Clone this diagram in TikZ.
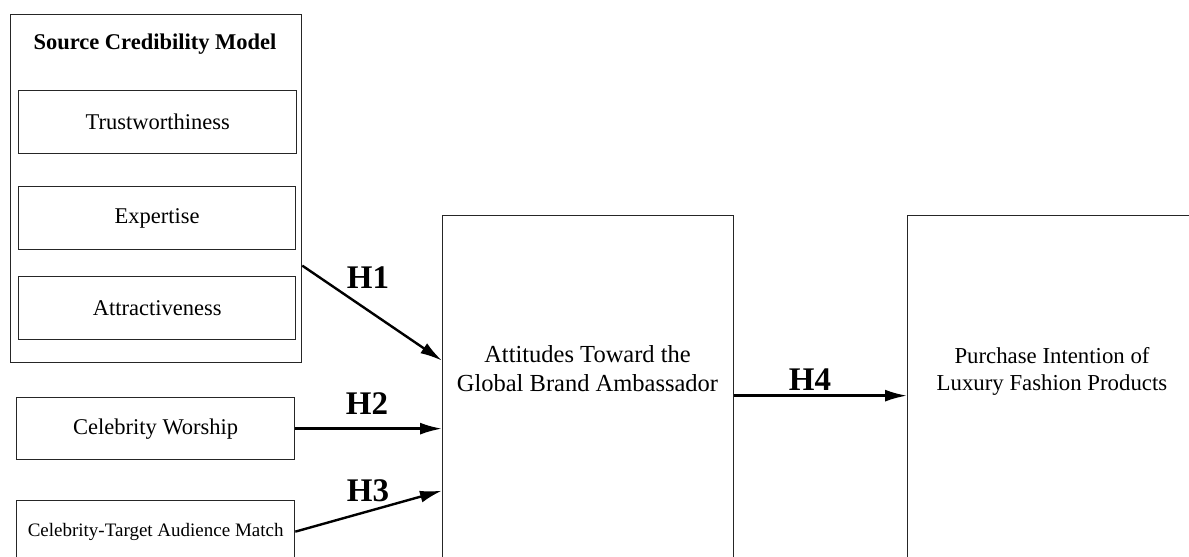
\documentclass[tikz,border=0pt]{standalone}
\usepackage{fontspec}
\setmainfont{Liberation Serif}
\usetikzlibrary{arrows.meta}

\begin{document}
\begin{tikzpicture}[x=1pt, y=-1pt,
		box/.style={draw=black!85, line width=1.3pt, inner sep=0pt, anchor=north west},
		txt/.style={font=\fontsize{22.5}{27}\selectfont, align=center},
		hyp/.style={line width=2.4pt, -{Latex[length=22pt, width=12pt]}},
		hlabel/.style={font=\bfseries\fontsize{33}{36}\selectfont}]
	\useasboundingbox (0,0) rectangle (1189,557);
	\clip (0,0) rectangle (1189,557);
	
	% \varbox#name#x#y#width#height#text
	\def\varbox#1#2#3#4#5#6{
		\node[box, txt, minimum width=#4pt, minimum height=#5pt] (#1) at (#2, #3) {#6};
	}
	
	% source credibility model
	\varbox{src}{10}{14}{291}{348}{}
	\node[txt] (srctitle) at (155, 44) {\bfseries Source Credibility Model};
	\varbox{trust}{18}{90}{278}{63}{Trustworthiness}
	\varbox{expert}{18}{186}{277}{63}{Expertise}
	\varbox{attract}{18}{276}{277}{63}{Attractiveness}
	
	% other antecedents
	\varbox{worship}{16}{397}{278}{62}{Celebrity Worship}
	\varbox{match}{16}{500}{278}{62}{\fontsize{19}{23}\selectfont Celebrity-Target Audience Match}
	
	% attitude and intention
	\varbox{att}{442}{215}{291}{360}{}
	\varbox{purch}{907}{215}{400}{360}{}
	\node[txt, font=\fontsize{24.5}{29}\selectfont] (atttext) at (587.5, 369)
		{Attitudes Toward the\\Global Brand Ambassador};
	\node[txt, font=\fontsize{22.8}{27}\selectfont] (purtext) at (1052, 371)
		{Purchase Intention of\\Luxury Fashion Products};
	
	% hypotheses
	\draw[hyp] ([yshift=-77pt]src.east) -- ([yshift=35pt]att.west);
	\draw[hyp] (worship.east) -- (worship.east -| att.west);
	\draw[hyp] (match.east) -- ([yshift=-95pt]att.west);
	\draw[hyp] (att.east) -- (purch.west);
	
	\node[hlabel] (h1) at (368, 278) {H1};
	\node[hlabel] (h2) at (367, 404) {H2};
	\node[hlabel] (h3) at (368, 491) {H3};
	\node[hlabel] (h4) at (810, 380) {H4};
\end{tikzpicture}
\end{document}
